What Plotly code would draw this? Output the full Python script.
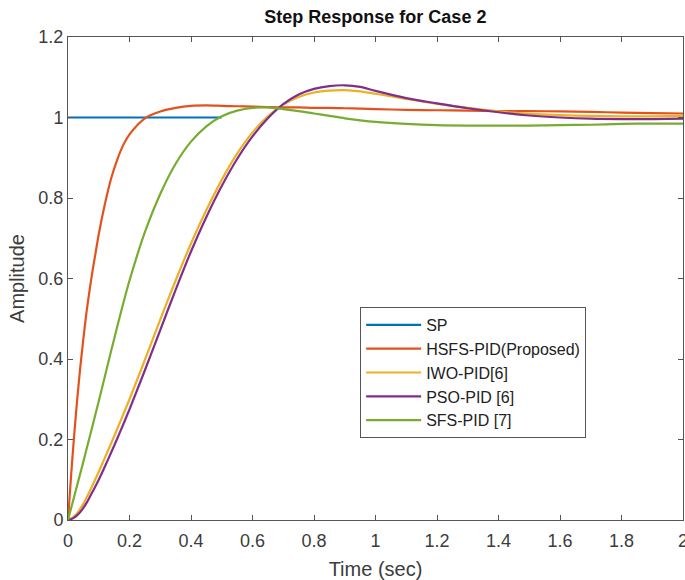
import plotly.graph_objects as go

# Time base (s) shared by all controller responses
time_s = [0, 0.01, 0.02, 0.03, 0.04, 0.05, 0.06, 0.07, 0.08, 0.09, 0.10,
          0.12, 0.14, 0.16, 0.18, 0.20, 0.25, 0.30, 0.35, 0.40, 0.45, 0.50,
          0.55, 0.60, 0.65, 0.70, 0.75, 0.80, 0.85, 0.90, 0.95, 1.0,
          1.1, 1.2, 1.3, 1.4, 1.5, 1.6, 1.7, 1.8, 1.9, 2.0]

# Set point
sp_time = [0, 0.5]
sp_value = [1, 1]

# Step responses
hsfs_pid = [0, 0.11, 0.21, 0.30, 0.38, 0.45, 0.515, 0.57, 0.62, 0.665, 0.71,
            0.785, 0.848, 0.895, 0.932, 0.958, 0.998, 1.015, 1.024, 1.029, 1.030, 1.029,
            1.028, 1.027, 1.026, 1.025, 1.025, 1.024, 1.024, 1.023, 1.022, 1.021,
            1.019, 1.018, 1.017, 1.016, 1.016, 1.015, 1.014, 1.012, 1.011, 1.010]

iwo_pid = [0, 0.004, 0.009, 0.017, 0.028, 0.040, 0.055, 0.070, 0.087, 0.103, 0.120,
           0.155, 0.190, 0.226, 0.263, 0.300, 0.398, 0.498, 0.595, 0.687, 0.770, 0.845,
           0.910, 0.963, 1.003, 1.032, 1.051, 1.062, 1.067, 1.068, 1.065, 1.059,
           1.046, 1.034, 1.024, 1.015, 1.009, 1.006, 1.004, 1.003, 1.003, 1.004]

pso_pid = [0, 0.002, 0.006, 0.012, 0.020, 0.030, 0.042, 0.056, 0.070, 0.085, 0.100,
           0.133, 0.167, 0.202, 0.238, 0.275, 0.372, 0.472, 0.572, 0.667, 0.753, 0.830,
           0.897, 0.953, 0.998, 1.033, 1.057, 1.071, 1.078, 1.080, 1.076, 1.066,
           1.048, 1.035, 1.023, 1.013, 1.005, 1.000, 0.997, 0.996, 0.996, 0.997]

sfs_pid = [0, 0.029, 0.058, 0.087, 0.116, 0.145, 0.175, 0.205, 0.235, 0.265, 0.295,
           0.357, 0.419, 0.480, 0.539, 0.595, 0.715, 0.810, 0.885, 0.940, 0.978, 1.003,
           1.017, 1.024, 1.025, 1.021, 1.016, 1.010, 1.004, 0.998, 0.993, 0.989,
           0.984, 0.981, 0.980, 0.980, 0.980, 0.981, 0.982, 0.984, 0.985, 0.985]

series_names = ["HSFS-PID(Proposed)", "IWO-PID[6]", "PSO-PID [6]", "SFS-PID [7]"]
series_values = [hsfs_pid, iwo_pid, pso_pid, sfs_pid]
series_colors = ["#E4521C", "#EDB120", "#7E2F8E", "#77AC30"]

x_ticks = [0, 0.2, 0.4, 0.6, 0.8, 1, 1.2, 1.4, 1.6, 1.8, 2]
y_ticks = [0, 0.2, 0.4, 0.6, 0.8, 1, 1.2]

FONT = "Liberation Sans, Arial, sans-serif"
TEXT_GREY = "#3c3c3c"

fig = go.Figure()
fig.add_trace(go.Scatter(x=sp_time, y=sp_value, mode="lines", name="SP",
                         line=dict(color="#0072BD", width=2.2)))
for name, vals, col in zip(series_names, series_values, series_colors):
    fig.add_trace(go.Scatter(x=time_s, y=vals, mode="lines", name=name,
                             line=dict(color=col, width=2.2, shape="spline", smoothing=0.8)))

axis_common = dict(showline=True, linecolor="#555555", linewidth=1, mirror="ticks",
                   ticks="inside", ticklen=5, tickcolor="#555555", showgrid=False,
                   zeroline=False, ticklabeloverflow="allow", automargin=False,
                   tickfont=dict(family=FONT, size=18, color=TEXT_GREY))

fig.update_layout(
    width=685, height=580,
    margin=dict(l=68, r=2, t=37, b=60),
    paper_bgcolor="white", plot_bgcolor="white",
    font=dict(family=FONT),
    title=dict(text="Step Response for Case 2", x=0.548, xanchor="center",
               y=1 - 17 / 580, yref="container", yanchor="middle",
               font=dict(family=FONT, size=18, color="#111111", weight="bold")),
    xaxis=dict(range=[0, 2], tickvals=x_ticks, ticktext=[f"{v:g}" for v in x_ticks],
               ticklabelstandoff=4,
               title=dict(text="Time (sec)", standoff=12,
                          font=dict(family=FONT, size=20, color=TEXT_GREY)),
               **axis_common),
    yaxis=dict(range=[0, 1.2], tickvals=y_ticks, ticktext=[f"{v:g}" for v in y_ticks],
               title=dict(text="Amplitude", standoff=8,
                          font=dict(family=FONT, size=20, color=TEXT_GREY)),
               **axis_common),
    legend=dict(x=0.475, y=0.441, xanchor="left", yanchor="top",
                bgcolor="white", bordercolor="#555555", borderwidth=1,
                font=dict(family=FONT, size=16, color="#222222"),
                itemwidth=55, tracegroupgap=0),
    showlegend=True,
)

fig.write_html("out.html")
